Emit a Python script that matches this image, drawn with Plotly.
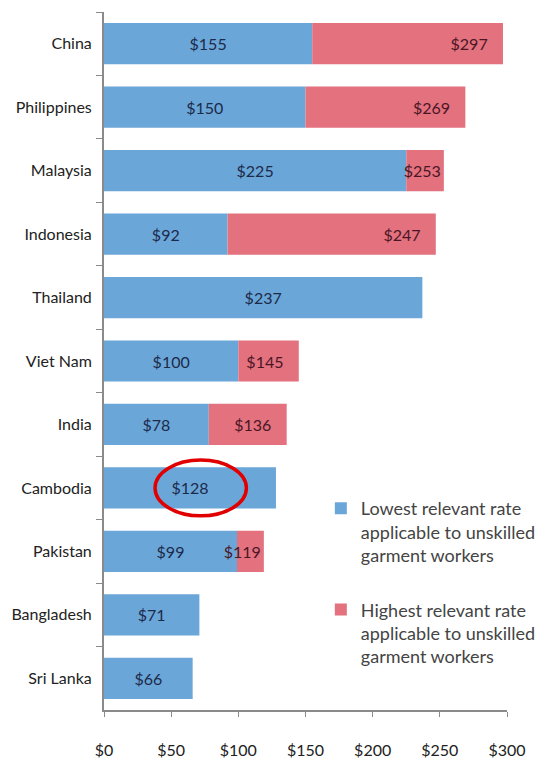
import plotly.graph_objects as go

countries = ["China", "Philippines", "Malaysia", "Indonesia", "Thailand", "Viet Nam",
             "India", "Cambodia", "Pakistan", "Bangladesh", "Sri Lanka"]
lowest = [155, 150, 225, 92, 237, 100, 78, 128, 99, 71, 66]
highest = [297, 269, 253, 247, None, 145, 136, None, 119, None, None]
x_ticks = [0, 50, 100, 150, 200, 250, 300]

BLUE = "#6BA6D8"
RED = "#E3717E"
BLUE_TXT = "#1C2A4A"
RED_TXT = "#4A1626"
FONT = "Lato"
NB = "\u00a0"

red_len = [(h - l) if h is not None else None for h, l in zip(highest, lowest)]
red_text = []
for h, seg in zip(highest, red_len):
    if h is None:
        red_text.append("")
    elif seg > 35:
        red_text.append(f"${h}" + NB * 3)
    else:
        red_text.append(f"${h}")

fig = go.Figure()
fig.add_trace(go.Bar(
    y=countries, x=lowest, orientation="h", marker_color=BLUE, marker_line_width=0,
    name="Lowest relevant rate<br>applicable to unskilled<br>garment workers",
    legendgroup="low",
    text=[f"${v}" for v in lowest], textangle=0,
    textposition="inside", insidetextanchor="middle", constraintext="none",
    textfont=dict(family=FONT, size=16, color=BLUE_TXT),
))
fig.add_trace(go.Bar(
    y=countries, x=red_len, base=lowest, orientation="h", marker_color=RED,
    marker_line_width=0,
    name="Highest relevant rate<br>applicable to unskilled<br>garment workers",
    legendgroup="high",
    text=red_text, textangle=0,
    textposition="inside", insidetextanchor="end", constraintext="none",
    textfont=dict(family=FONT, size=16, color=RED_TXT), cliponaxis=False,
))

cam = countries.index("Cambodia")
fig.add_shape(type="circle", xref="x", yref="y",
              x0=38, x1=106, y0=cam - 0.44, y1=cam + 0.44,
              line=dict(color="#E00000", width=3.5))

fig.update_layout(
    width=545, height=758,
    margin=dict(l=96, r=46, t=4, b=56, autoexpand=False),
    barmode="overlay", bargap=0.35,
    plot_bgcolor="white", paper_bgcolor="white",
    font=dict(family=FONT, size=15, color="#222222"),
    legend=dict(xref="container", yref="container", x=0.574, y=0.364,
                xanchor="left", yanchor="top",
                font=dict(family=FONT, size=18, color="#444444"),
                valign="top", tracegroupgap=28, traceorder="grouped",
                bgcolor="rgba(0,0,0,0)"),
    xaxis=dict(range=[0, 300], tickvals=x_ticks,
               ticktext=[f"${v}" for v in x_ticks],
               showgrid=False, zeroline=False, showline=True, automargin=False,
               linecolor="#8A8A8A", linewidth=2, ticks="outside",
               ticklen=5, tickcolor="#8A8A8A", ticklabelstandoff=20,
               tickfont=dict(family=FONT, size=16, color="#222222")),
    yaxis=dict(autorange="reversed", showgrid=False, showline=True, automargin=False,
               linecolor="#8A8A8A", linewidth=2, ticks="outside",
               tickson="boundaries", ticklen=6, tickcolor="#8A8A8A",
               ticklabelstandoff=7,
               tickfont=dict(family=FONT, size=16, color="#222222")),
)

fig.write_html("out.html")
